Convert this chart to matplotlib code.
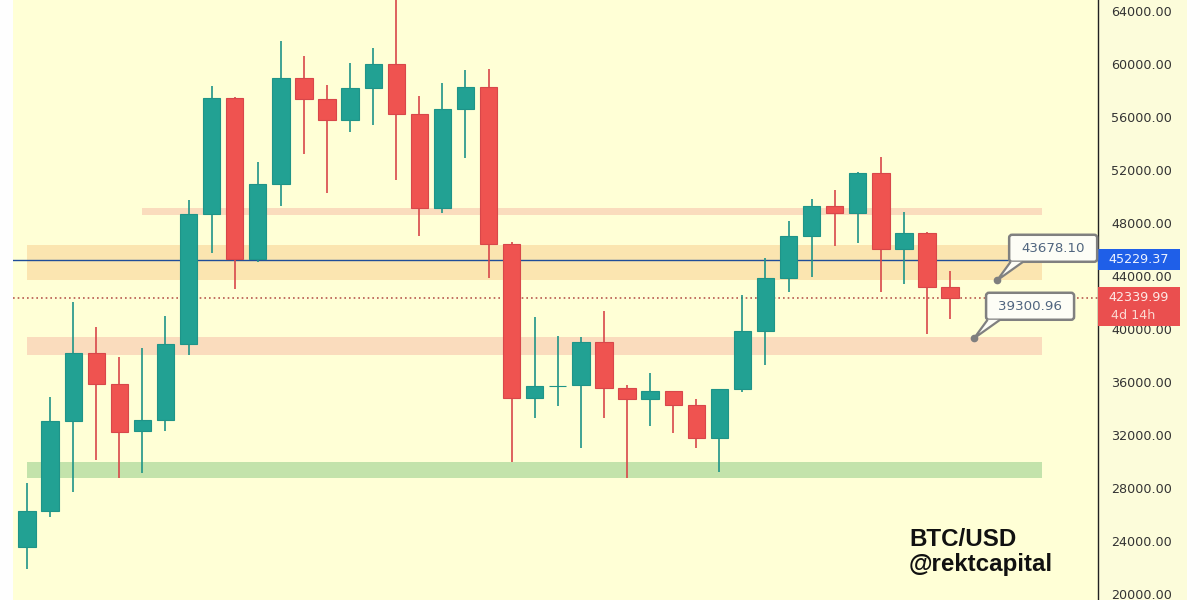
import matplotlib
matplotlib.use('Agg')
import matplotlib.pyplot as plt
from matplotlib.patches import Rectangle, FancyBboxPatch, Polygon
from matplotlib.transforms import IdentityTransform
import numpy as np

# weekly candles
opens = [23547, 26264, 33057, 38189, 35849, 32302, 33132, 38868, 48679, 57434, 45283,
         50943, 58943, 57358, 55774, 58189, 60000, 56226, 49132, 56604, 58264, 46415,
         34792, 35698, 35774, 39019, 35547, 34717, 35321, 34264, 31774, 35472, 39849,
         43849, 47019, 49283, 48755, 51774, 46038, 47245, 43170]
highs = [28377, 34868, 42038, 40151, 37887, 38566, 40981, 49736, 58340, 57509, 52604,
         61736, 60604, 58415, 60076, 61207, 64900, 57585, 58566, 59547, 59623, 46566,
         40906, 39472, 39396, 41358, 35774, 36679, 35321, 34717, 35472, 42566, 45359,
         48151, 49812, 50491, 51849, 52981, 48830, 47321, 44378]
lows = [21887, 25811, 27698, 30113, 28755, 29132, 32302, 38038, 45736, 43019, 45057,
        49283, 53208, 50264, 54868, 55396, 51245, 47019, 48755, 52906, 43849, 29962,
        33283, 34189, 31019, 33283, 28755, 32679, 32151, 31019, 29208, 35245, 37283,
        42793, 43925, 46264, 46491, 42793, 43396, 39623, 40755]
closes = [26264, 33057, 38189, 35849, 32226, 33132, 38868, 48679, 57434, 45283, 50943,
          58943, 57358, 55774, 58189, 60000, 56226, 49132, 56604, 58264, 46415, 34792,
          35698, 35710, 39019, 35547, 34717, 35321, 34264, 31774, 35472, 39849, 43849,
          47019, 49283, 48755, 51774, 46038, 47245, 43170, 42339.99]

# zones: start candle, end candle, price bottom, price top, colour
zone_starts = [5, 0, 0, 0]
zone_ends = [44, 44, 44, 44]
zone_lows = [48604, 43700, 38038, 28755]
zone_highs = [49132, 46340, 39396, 29962]
zone_colors = ['#fadcbd', '#fbe5b0', '#fadcbd', '#c3e3ab']

price_ticks = list(range(20000, 68000, 4000))
blue_price = 45229.37
last_price = 42339.99
countdown = '4d 14h'
callout_prices = [43678.10, 39300.96]
callout_x = [42.04, 41.04]

GREEN = '#22a193'
RED = '#ef5350'
BG = '#ffffd6'
BOX = '#fdfdf6'
GREY = '#808080'

fig = plt.figure(figsize=(12, 6), dpi=100, facecolor='#fefefe')
fig.add_artist(Rectangle((13 / 1200, 0), 1174 / 1200, 1, transform=fig.transFigure,
                         facecolor='#fcfcda', edgecolor='none', zorder=-5))
ax = fig.add_axes([13 / 1200, 0, 1085 / 1200, 1], facecolor=BG)
ax.set_xlim(-0.607, 46.41)
ax.set_ylim(19548, 64830)

for i in range(len(zone_starts)):
    ax.fill_between([zone_starts[i], zone_ends[i]], zone_lows[i], zone_highs[i],
                    color=zone_colors[i], linewidth=0, zorder=1)

ax.axhline(blue_price, color='#1f4d99', lw=1.0, zorder=2)
ax.axhline(last_price, color='#b8594f', lw=1.2, ls=(0, (1, 1.8)), zorder=2)

x = np.arange(len(opens))
o = np.array(opens)
c = np.array(closes)
colors = [GREEN if c[i] >= o[i] else RED for i in x]
wick_colors = ['#1f9488' if c[i] >= o[i] else '#d8474a' for i in x]
ax.vlines(x, lows, highs, colors=wick_colors, lw=1.2, zorder=3)
ax.bar(x, np.abs(c - o), bottom=np.minimum(o, c), width=0.75, color=colors,
       edgecolor=wick_colors, linewidth=0.8, zorder=4)

# price scale
ax.set_xticks([])
ax.yaxis.tick_right()
ax.set_yticks(price_ticks)
ax.set_yticklabels(['%.2f' % p for p in price_ticks], fontsize=9.2, color='#333333')
ax.tick_params(axis='y', length=0, pad=9.4)
for s in ['left', 'top', 'bottom']:
    ax.spines[s].set_visible(False)
ax.spines['right'].set_color('#222222')
ax.spines['right'].set_linewidth(1.0)

# price labels on the scale
ytrans = ax.get_yaxis_transform()
ax.add_patch(Rectangle((1.0, blue_price - 790), 0.0756, 1580, transform=ytrans,
                       facecolor='#1f5fe8', edgecolor='none', clip_on=False, zorder=6))
ax.text(1.0378, blue_price, '%.2f' % blue_price, transform=ytrans, color='#eef3ff',
        fontsize=9.2, ha='center', va='center', zorder=7)
ax.add_patch(Rectangle((1.0, 40227), 0.0756, 2943, transform=ytrans,
                       facecolor='#ea4f4f', edgecolor='none', clip_on=False, zorder=6))
ax.text(1.0378, last_price, '%.2f' % last_price, transform=ytrans, color='#fdeae6',
        fontsize=9.2, ha='center', va='center', zorder=7)
ax.text(1.012, last_price - 1330, countdown, transform=ytrans, color='#fbd9d2',
        fontsize=9.2, ha='left', va='center', zorder=7)

# callouts, box sits up and right of the price dot, sizes in pixels
px = IdentityTransform()
for i in range(len(callout_prices)):
    tx, ty = ax.transData.transform((callout_x[i], callout_prices[i]))
    left = tx + 12
    bottom = ty + 18.5
    ax.add_patch(FancyBboxPatch((left, bottom), 88, 27, boxstyle='round,pad=0,rounding_size=3',
                                transform=px, fc=BOX, ec=GREY, lw=1.8, zorder=8, clip_on=False))
    ax.add_patch(Polygon([(left + 1.5, bottom), (tx, ty), (left + 14, bottom)], closed=False,
                         transform=px, fc=BOX, ec=GREY, lw=1.6, zorder=9, clip_on=False))
    ax.text(left + 44, bottom + 13.5, '%.2f' % callout_prices[i], transform=px, fontsize=9.6,
            color='#50657f', ha='center', va='center', zorder=10)
    ax.plot(callout_x[i], callout_prices[i], 'o', color='#7f7f7f', ms=4.5, zorder=9)

fig.text(909 / 1200, 1 - 539 / 600, 'BTC/USD', fontsize=17.4, fontweight='bold',
         family='Liberation Sans', color='#111111', va='center', ha='left')
fig.text(909 / 1200, 1 - 565 / 600, '@rektcapital', fontsize=17.4, fontweight='bold',
         family='Liberation Sans', color='#111111', va='center', ha='left')

fig.savefig('out.png', dpi=100, facecolor=fig.get_facecolor())
